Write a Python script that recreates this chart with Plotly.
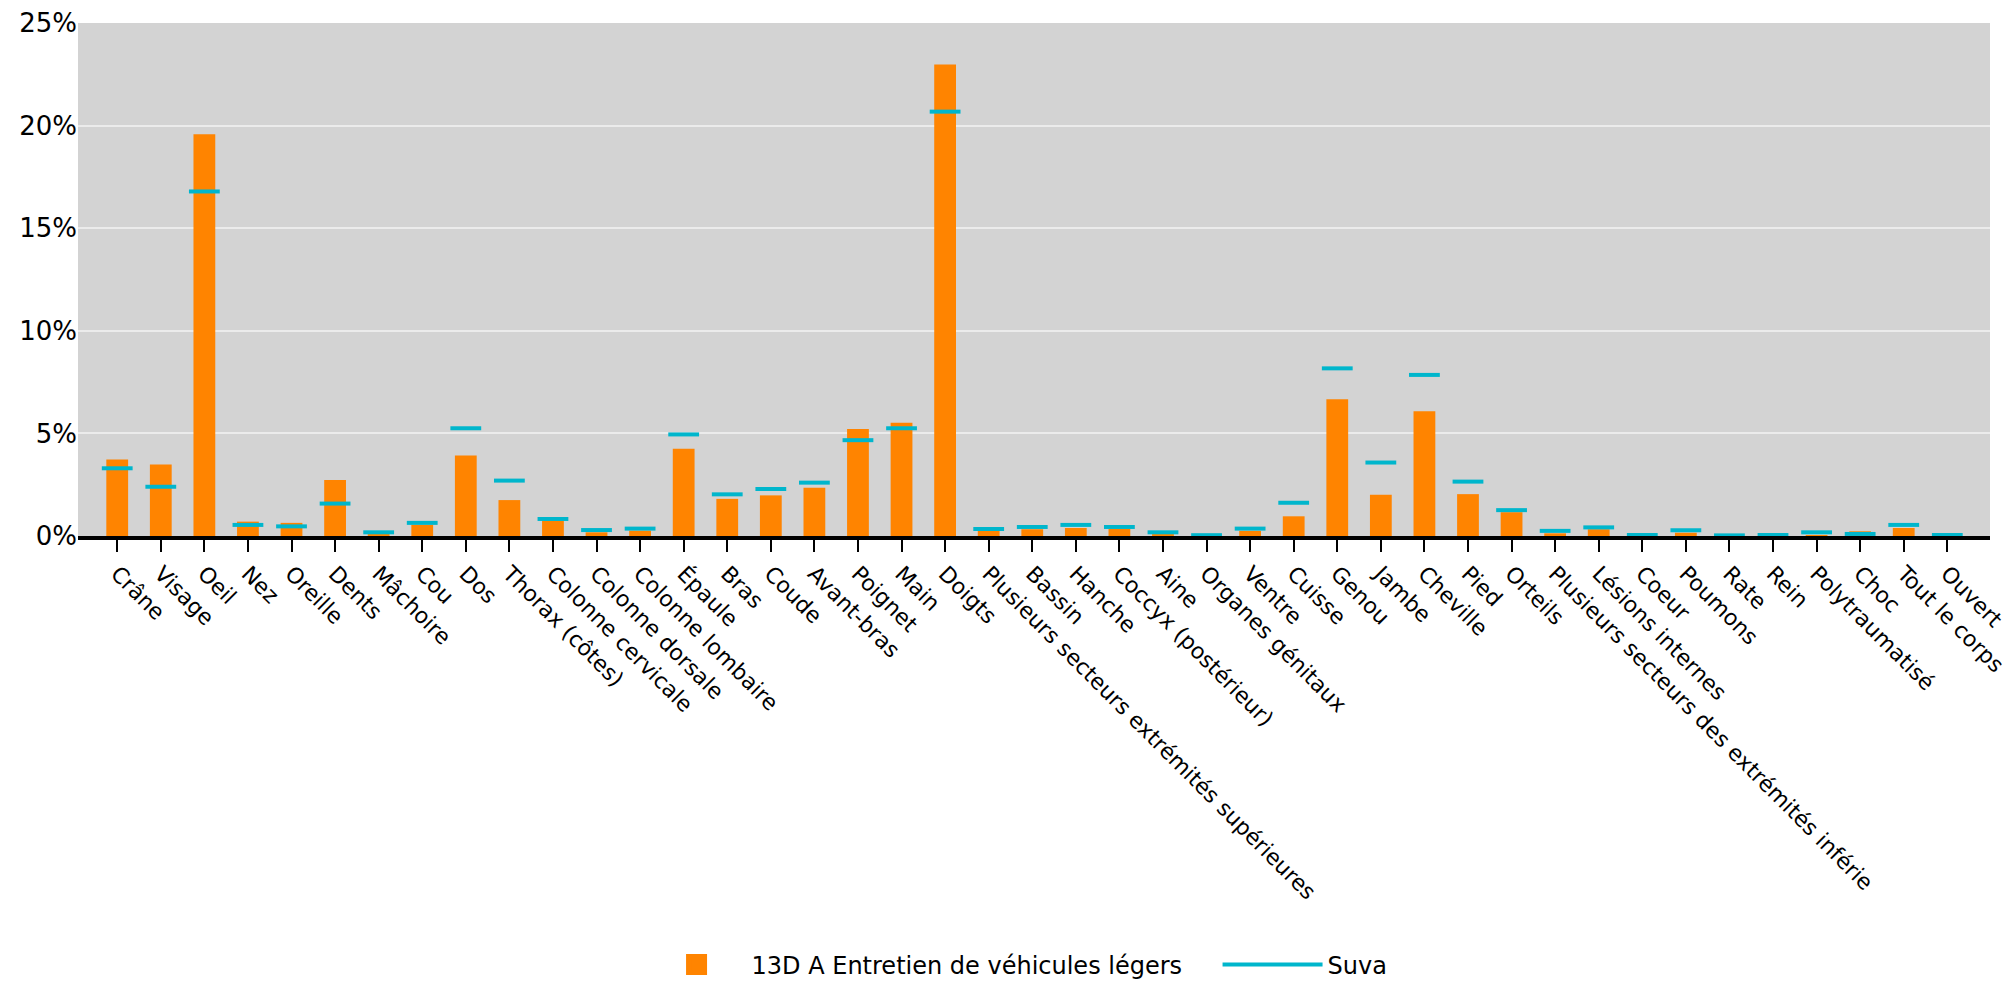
import plotly.graph_objects as go

categories = ["Crâne", "Visage", "Oeil", "Nez", "Oreille", "Dents", "Mâchoire", "Cou", "Dos",
              "Thorax (côtes)", "Colonne cervicale", "Colonne dorsale", "Colonne lombaire", "Épaule",
              "Bras", "Coude", "Avant-bras", "Poignet", "Main", "Doigts",
              "Plusieurs secteurs extrémités supérieures", "Bassin", "Hanche", "Coccyx (postérieur)",
              "Aine", "Organes génitaux", "Ventre", "Cuisse", "Genou", "Jambe", "Cheville", "Pied",
              "Orteils", "Plusieurs secteurs des extrémités inférie", "Lésions internes", "Coeur",
              "Poumons", "Rate", "Rein", "Polytraumatisé", "Choc", "Tout le corps", "Ouvert"]

branche = [3.73, 3.48, 19.58, 0.70, 0.64, 2.73, 0.05, 0.54, 3.92,
           1.75, 0.74, 0.18, 0.26, 4.25,
           1.81, 1.98, 2.35, 5.21, 5.52, 22.98,
           0.25, 0.33, 0.39, 0.34,
           0.07, 0.0, 0.25, 0.96, 6.66, 2.01, 6.08, 2.04,
           1.16, 0.13, 0.33, 0.0,
           0.16, 0.0, 0.0, 0.03, 0.23, 0.39, 0.0]

suva = [3.30, 2.40, 16.79, 0.54, 0.47, 1.58, 0.18, 0.64, 5.25,
        2.70, 0.83, 0.29, 0.36, 4.95,
        2.03, 2.29, 2.60, 4.67, 5.25, 20.68,
        0.34, 0.44, 0.54, 0.44,
        0.18, 0.04, 0.36, 1.62, 8.17, 3.58, 7.85, 2.65,
        1.26, 0.25, 0.42, 0.05,
        0.28, 0.03, 0.05, 0.18, 0.10, 0.54, 0.05]

y_ticks = [0, 5, 10, 15, 20, 25]
y_tick_labels = ["0%", "5%", "10%", "15%", "20%", "25%"]

ORANGE = "#FF8400"
CYAN = "#00B6CC"
FONT = "DejaVu Sans"
NAME_A = "13D A Entretien de véhicules légers"

fig = go.Figure()
# data traces
fig.add_trace(go.Bar(
    x=categories, y=branche, name=NAME_A, showlegend=False,
    marker=dict(color=ORANGE, line=dict(width=0)),
))
fig.add_trace(go.Scatter(
    x=categories, y=suva, name="Suva", mode="markers", showlegend=False,
    marker=dict(symbol="line-ew", size=22, line=dict(color=CYAN, width=4)),
))
# legend-only entries
fig.add_trace(go.Scatter(
    x=[None], y=[None], name=NAME_A, mode="markers",
    marker=dict(symbol="square", color=ORANGE, size=30, line=dict(color=ORANGE, width=5)),
))
fig.add_trace(go.Scatter(
    x=[None], y=[None], name="Suva", mode="lines",
    line=dict(color=CYAN, width=4),
))

fig.update_layout(
    width=2011, height=991,
    margin=dict(l=70, r=29, t=15, b=458),
    paper_bgcolor="white",
    plot_bgcolor="#D3D3D3",
    font=dict(family=FONT, size=22, color="#000000"),
    bargap=0.5,
    showlegend=True,
    legend=dict(orientation="h", x=0.596, xanchor="center", y=-0.836, yanchor="middle",
                font=dict(size=24), itemwidth=100, entrywidth=461, traceorder="normal"),
)
fig.update_xaxes(
    type="category", categoryorder="array", categoryarray=categories,
    tickangle=45, showgrid=False, showline=True, linecolor="black", linewidth=4,
    ticks="outside", ticklen=12, tickwidth=2, tickcolor="black",
    tickfont=dict(size=22), range=[-0.9, 42.98], automargin=False,
)
fig.update_yaxes(
    range=[0, 25], tickvals=y_ticks, ticktext=y_tick_labels,
    showgrid=True, gridcolor="#EBEBEB", gridwidth=2, zeroline=False,
    showline=False, ticks="", tickfont=dict(size=26), automargin=False,
)

fig.write_html("out.html")
